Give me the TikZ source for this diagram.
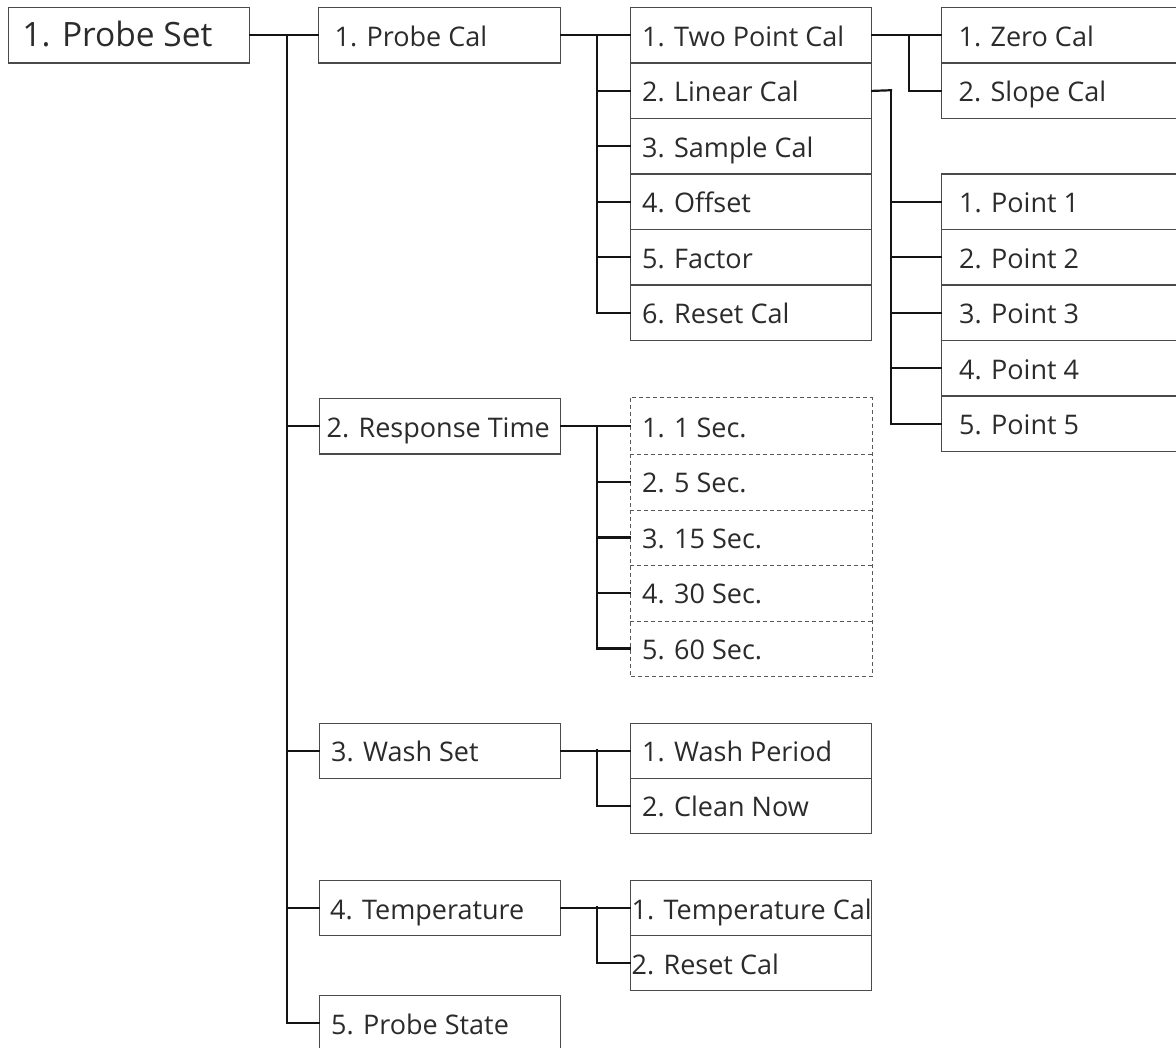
\documentclass[tikz,border=0pt]{standalone}
\usepackage{fontspec}
\setmainfont{Open Sans}
\definecolor{bordergray}{HTML}{4A4A4A}
\definecolor{textgray}{HTML}{2B2B2B}
\definecolor{dashgray}{HTML}{5A5A5A}
\tikzset{
  cbox/.style={draw=bordergray, line width=1.3pt, anchor=north west, minimum height=55.5pt,
    inner ysep=0pt, font=\fontsize{27}{32}\selectfont, text=textgray, text height=22pt, text depth=0pt},
  dbox/.style={cbox, draw=none},
  dline/.style={draw=dashgray, line width=1pt, dash pattern=on 4pt off 3pt},
  rootbox/.style={cbox, font=\fontsize{33.5}{40}\selectfont, text height=21.5pt},
  conn/.style={line width=2.2pt, draw=black!92, line cap=rect},
}
\newcommand\addbox[7]{%
  \pgfmathsetmacro\bxw{#5-2*#6}%
  \node[#1, inner xsep=#6pt] (#2) at (#3,#4) {\makebox[\bxw pt][l]{#7}};}
\begin{document}
\begin{tikzpicture}[x=1pt,y=-1pt]
\fill[white] (0,0) rectangle (1176,1048);
\clip (0,0) rectangle (1176,1048);
% root
\addbox{rootbox}{root}{7.7}{7}{241.3}{14}{1. Probe Set}
% column 2
\addbox{cbox}{pc}{318}{7}{242}{16}{1. Probe Cal}
\addbox{cbox}{rt}{318.5}{398}{241.5}{7.5}{2. Response Time}
\addbox{cbox,minimum height=55pt}{ws}{318.5}{722.5}{241.5}{12}{3. Wash Set}
\addbox{cbox,minimum height=55pt}{tm}{318.5}{880}{241.5}{11}{4. Temperature}
\addbox{cbox}{ps}{318.5}{994.7}{241.5}{12}{5. Probe State}
% column 3
\addbox{cbox}{tp}{630}{7}{241}{11.5}{1. Two Point Cal}
\addbox{cbox}{lc}{630}{62.5}{241}{11.5}{2. Linear Cal}
\addbox{cbox}{sc}{630}{118}{241}{11.5}{3. Sample Cal}
\addbox{cbox}{of}{630}{173.5}{241}{11.5}{4. Offset}
\addbox{cbox}{fa}{630}{229}{241}{11.5}{5. Factor}
\addbox{cbox}{rc}{630}{284.5}{241}{11.5}{6. Reset Cal}
\addbox{dbox}{r1}{630}{398}{241}{11.5}{1. 1 Sec.}
\addbox{dbox}{r2}{630}{453.5}{241}{11.5}{2. 5 Sec.}
\addbox{dbox}{r3}{630}{509}{241}{11.5}{3. 15 Sec.}
\addbox{dbox}{r4}{630}{564.5}{241}{11.5}{4. 30 Sec.}
\addbox{dbox}{r5}{630}{620}{241}{11.5}{5. 60 Sec.}
\addbox{cbox,minimum height=55pt}{wp}{630}{722.5}{241}{11.5}{1. Wash Period}
\addbox{cbox,minimum height=55pt}{cn}{630}{777.5}{241}{11.5}{2. Clean Now}
\addbox{cbox,minimum height=55pt}{tc}{630}{880}{241}{1}{1. Temperature Cal}
\addbox{cbox,minimum height=55pt}{rs}{630}{935}{241}{1}{2. Reset Cal}
% column 4
\addbox{cbox}{zc}{941}{7}{241}{17}{1. Zero Cal}
\addbox{cbox}{slc}{941}{62.5}{241}{17}{2. Slope Cal}
\addbox{cbox}{p1}{941}{173.5}{241}{17.5}{1. Point 1}
\addbox{cbox}{p2}{941}{229}{241}{17.5}{2. Point 2}
\addbox{cbox}{p3}{941}{284.5}{241}{17.5}{3. Point 3}
\addbox{cbox}{p4}{941}{340}{241}{17.5}{4. Point 4}
\addbox{cbox}{p5}{941}{395.5}{241}{17.5}{5. Point 5}
% dashed grid for response time options
\draw[dline] (r1.north west) rectangle (r5.south east);
\foreach \n in {r1,r2,r3,r4} \draw[dline] (\n.south west) -- (\n.south east);
% connectors
\draw[conn] (root.east) -- (pc.west);
\coordinate (t0) at (287,34.75);
\foreach \n in {rt,ws,tm,ps} \draw[conn] (t0) |- (\n.west);
\draw[conn] (pc.east) -- (tp.west);
\coordinate (s1) at (597,34.75);
\foreach \n in {lc,sc,of,fa,rc} \draw[conn] (s1) |- (\n.west);
\draw[conn] (tp.east) -- (zc.west);
\coordinate (s2) at (909,34.75);
\draw[conn] (s2) |- (slc.west);
\coordinate (s3) at (891,90.25);
\draw[conn] (lc.east) -- (s3);
\foreach \n in {p1,p2,p3,p4,p5} \draw[conn] (s3) |- (\n.west);
\draw[conn] (rt.east) -- (r1.west);
\coordinate (s4) at (597,425.75);
\foreach \n in {r2,r3,r4,r5} \draw[conn] (s4) |- (\n.west);
\draw[conn] (ws.east) -- (wp.west);
\coordinate (s5) at (597,750);
\draw[conn] (s5) |- (cn.west);
\draw[conn] (tm.east) -- (tc.west);
\coordinate (s6) at (597,907.5);
\draw[conn] (s6) |- (rs.west);
\end{tikzpicture}
\end{document}
